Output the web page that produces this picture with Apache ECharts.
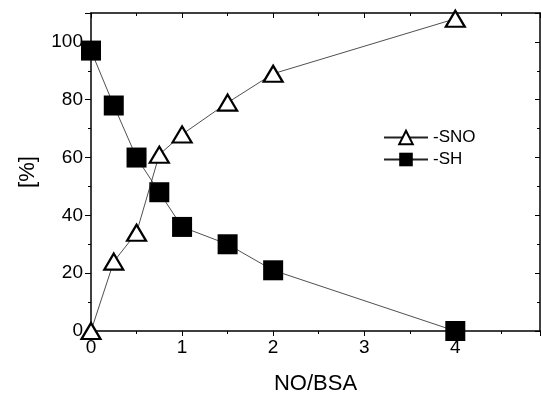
<!DOCTYPE html>
<html><head><meta charset="utf-8">
<script src="https://cdn.jsdelivr.net/npm/echarts@6/dist/echarts.min.js"></script>
<style>html,body{margin:0;padding:0;background:#fff}#c{width:541px;height:396px}</style>
</head><body><div id="c"></div>
<script>
const xValues = [0, 0.25, 0.5, 0.75, 1, 1.5, 2, 4];
const snoValues = [0, 24, 34, 61, 68, 79, 89, 108];
const shValues = [97, 78, 60, 48, 36, 30, 21, 0];
const seriesNames = ['-SNO', '-SH'];
const xTitle = 'NO/BSA';
const yTitle = '[%]';

const FONT = '"Liberation Sans", Arial, sans-serif';
const chart = echarts.init(document.getElementById('c'));
const axisLine = {show: true, onZero: false, lineStyle: {color: '#000', width: 1.5}};
const tickStyle = {color: '#000', width: 1};
chart.setOption({
  animation: false,
  backgroundColor: '#fff',
  grid: {left: 91, top: 13, right: 1, bottom: 65, containLabel: false, outerBoundsMode: 'none'},
  legend: {
    orient: 'vertical', left: 378, top: 124, itemGap: 5,
    itemWidth: 44, itemHeight: 17,
    textStyle: {fontFamily: FONT, fontSize: 17, color: '#000'},
    data: seriesNames
  },
  xAxis: [{
    type: 'value', min: 0, max: 4.93, interval: 1,
    name: xTitle, nameLocation: 'middle', nameGap: 42,
    nameTextStyle: {fontFamily: FONT, fontSize: 22, color: '#000'},
    axisLine: axisLine,
    axisTick: {show: true, inside: false, length: 5, lineStyle: tickStyle},
    minorTick: {show: true, splitNumber: 2, length: 3, lineStyle: tickStyle},
    axisLabel: {fontFamily: FONT, fontSize: 19, color: '#000', margin: 7, showMaxLabel: false},
    splitLine: {show: false}
  }, {
    type: 'value', position: 'top', min: 0, max: 4.93, interval: 1,
    axisLine: axisLine,
    axisTick: {show: true, inside: true, length: 5, lineStyle: tickStyle},
    minorTick: {show: true, splitNumber: 2, length: 3, lineStyle: tickStyle},
    axisLabel: {show: false}, splitLine: {show: false}
  }],
  yAxis: [{
    type: 'value', min: 0, max: 110, interval: 20,
    name: yTitle, nameLocation: 'middle', nameGap: 52, nameRotate: 90,
    nameTextStyle: {fontFamily: FONT, fontSize: 22, color: '#000'},
    axisLine: axisLine,
    axisTick: {show: true, inside: false, length: 6, lineStyle: tickStyle},
    minorTick: {show: true, splitNumber: 2, length: 3, lineStyle: tickStyle},
    axisLabel: {fontFamily: FONT, fontSize: 19, color: '#000', margin: 8, showMaxLabel: false},
    splitLine: {show: false}
  }, {
    type: 'value', position: 'right', min: 0, max: 110, interval: 20,
    axisLine: axisLine,
    axisTick: {show: true, inside: true, length: 5, lineStyle: tickStyle},
    minorTick: {show: true, splitNumber: 2, length: 3, lineStyle: tickStyle},
    axisLabel: {show: false}, splitLine: {show: false}
  }],
  series: [{
    name: seriesNames[0], type: 'line', xAxisIndex: 0, yAxisIndex: 0,
    data: xValues.map((x, i) => [x, snoValues[i]]),
    symbol: 'triangle', symbolSize: [19, 16],
    itemStyle: {color: '#fff', borderColor: '#000', borderWidth: 2.2},
    lineStyle: {color: '#222', width: 0.8},
    z: 3
  }, {
    name: seriesNames[1], type: 'line', xAxisIndex: 0, yAxisIndex: 0,
    data: xValues.map((x, i) => [x, shValues[i]]),
    symbol: 'rect', symbolSize: 20,
    itemStyle: {color: '#000', borderColor: '#000', borderWidth: 0},
    lineStyle: {color: '#222', width: 0.8},
    z: 2
  }]
});
</script></body></html>
